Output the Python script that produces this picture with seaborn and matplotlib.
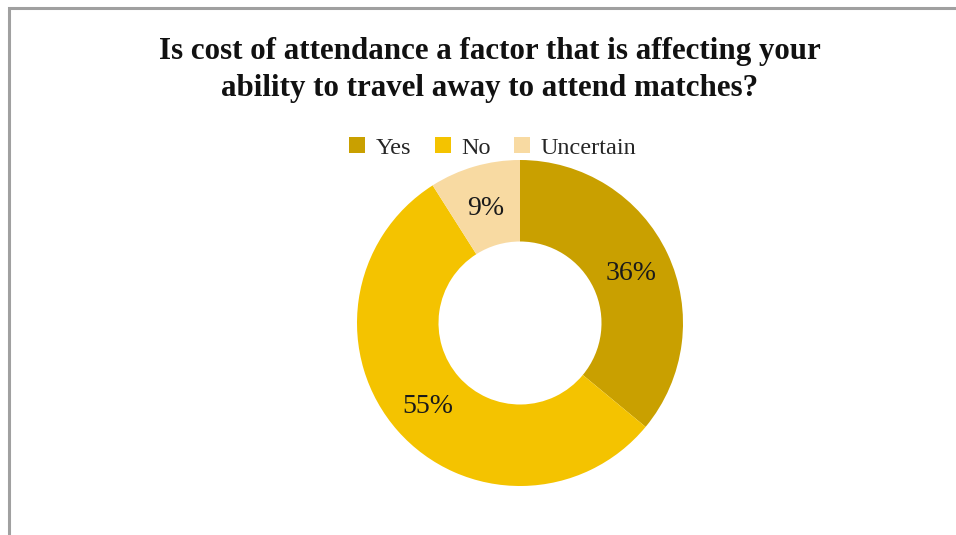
import matplotlib
matplotlib.use("Agg")
import matplotlib.pyplot as plt
from matplotlib.patches import Patch, Rectangle
import seaborn as sns

# Survey responses
categories = ["Yes", "No", "Uncertain"]
shares = [36, 55, 9]
slice_labels = ["36%", "55%", "9%"]
title_text = ("Is cost of attendance a factor that is affecting your\n"
              "ability to travel away to attend matches?")

sns.set_theme(style="white")
plt.rcParams["font.family"] = ["Liberation Serif", "DejaVu Serif"]
palette = sns.color_palette(["#C9A000", "#F4C300", "#F8DAA2"])

W, H = 956, 535
fig = plt.figure(figsize=(W / 100, H / 100), dpi=100)
fig.patch.set_facecolor("white")

# Grey frame around the chart area (open at right and bottom)
fig.add_artist(Rectangle((9 / W, -0.1), 1.2, (H - 8) / H + 0.1,
                         transform=fig.transFigure, fill=False,
                         edgecolor="#A0A0A0", linewidth=2.2))

fig.text(490 / W, 1 - 70 / H, title_text, ha="center", va="center",
         fontsize=22.3, fontweight="bold", color="#111111",
         linespacing=1.32)

# Doughnut
cx, cy, r = 520, 323, 163
ax = fig.add_axes([(cx - r) / W, (H - cy - r) / H, 2 * r / W, 2 * r / H])
wedges, texts = ax.pie(shares, colors=palette, startangle=90, counterclock=False,
                       radius=1.0, wedgeprops=dict(width=0.5, linewidth=0),
                       labels=slice_labels, labeldistance=0.75,
                       textprops=dict(fontsize=20, color="#1a1a1a",
                                      ha="center", va="center_baseline"))
ax.set_xlim(-1, 1)
ax.set_ylim(-1, 1)
ax.set_aspect("equal")
ax.axis("off")

handles = [Patch(facecolor=c, edgecolor="none") for c in palette]
fig.legend(handles, categories, loc="center", bbox_to_anchor=(493 / W, 1 - 148 / H),
           ncol=3, frameon=False, fontsize=17.5, handlelength=0.65, handleheight=0.65,
           handletextpad=0.45, columnspacing=0.95)

fig.savefig("out.png", dpi=100, facecolor="white")
